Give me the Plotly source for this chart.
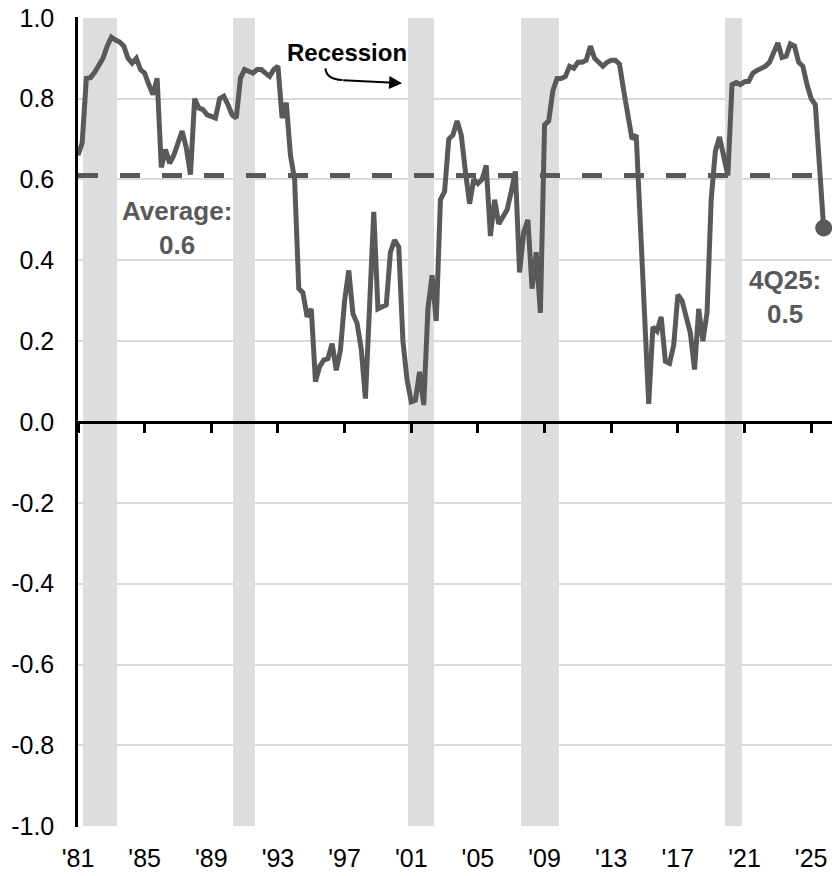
import plotly.graph_objects as go

# Quarterly labels 1Q81 .. 4Q25
quarters = [f"{q}Q{y % 100:02d}" for y in range(1981, 2026) for q in range(1, 5)]

values = [
    0.66, 0.69, 0.85, 0.852, 0.865, 0.88, 0.90, 0.93, 0.952, 0.945,
    0.94, 0.93, 0.90, 0.888, 0.90, 0.872, 0.863, 0.835, 0.81, 0.85,
    0.63, 0.674, 0.64, 0.66, 0.686, 0.72, 0.678, 0.612, 0.80, 0.777,
    0.773, 0.76, 0.756, 0.752, 0.80, 0.806, 0.785, 0.76, 0.752, 0.851,
    0.872, 0.867, 0.863, 0.872, 0.872, 0.863, 0.855, 0.872, 0.88, 0.752,
    0.79, 0.66, 0.60, 0.33, 0.32, 0.26, 0.28, 0.10, 0.137, 0.153,
    0.157, 0.194, 0.128, 0.178, 0.30, 0.375, 0.268, 0.244, 0.18, 0.058,
    0.29, 0.52, 0.28, 0.285, 0.29, 0.42, 0.45, 0.433, 0.20, 0.104,
    0.05, 0.054, 0.124, 0.042, 0.28, 0.363, 0.25, 0.55, 0.57, 0.70,
    0.71, 0.745, 0.71, 0.62, 0.54, 0.60, 0.59, 0.60, 0.635, 0.46,
    0.55, 0.49, 0.51, 0.525, 0.57, 0.62, 0.37, 0.47, 0.50, 0.33,
    0.42, 0.27, 0.735, 0.745, 0.82, 0.85, 0.85, 0.855, 0.88, 0.875,
    0.89, 0.89, 0.895, 0.93, 0.90, 0.89, 0.88, 0.89, 0.895, 0.895,
    0.885, 0.82, 0.75, 0.70, 0.71, 0.50, 0.26, 0.045, 0.235, 0.225,
    0.26, 0.15, 0.145, 0.19, 0.315, 0.30, 0.26, 0.22, 0.13, 0.28,
    0.20, 0.27, 0.55, 0.67, 0.705, 0.66, 0.61, 0.835, 0.84, 0.835,
    0.842, 0.843, 0.863, 0.87, 0.876, 0.88, 0.89, 0.915, 0.938, 0.902,
    0.905, 0.935, 0.93, 0.89, 0.88, 0.835, 0.80, 0.785, 0.63, 0.48,
]

average = 0.61

recession_start = ["3Q81", "3Q90", "1Q01", "4Q07", "1Q20"]
recession_end = ["4Q82", "1Q91", "4Q01", "2Q09", "2Q20"]

tick_labels = ["'81", "'85", "'89", "'93", "'97", "'01", "'05", "'09", "'13", "'17", "'21", "'25"]
y_ticks = [1.0, 0.8, 0.6, 0.4, 0.2, 0.0, -0.2, -0.4, -0.6, -0.8, -1.0]

LINE = "#58595b"
SHADE = "#dcdddf"
GRID = "#d9d9d9"
FONT = "Liberation Sans, Arial, sans-serif"

x = list(range(len(values)))
qidx = {q: i for i, q in enumerate(quarters)}

# recession bands (span from a little before the start quarter to after the end quarter)
band_lo = [qidx[s] - 0.7 for s in recession_start]
band_hi = [qidx[e] + 2.4 for e in recession_end]

fig = go.Figure()

fig.add_trace(go.Bar(
    x=[(a + b) / 2 for a, b in zip(band_lo, band_hi)],
    y=[2] * len(band_lo), base=[-1] * len(band_lo),
    width=[b - a for a, b in zip(band_lo, band_hi)],
    marker=dict(color=SHADE, line=dict(width=0)),
    hoverinfo="skip", showlegend=False))

# average dashed line
fig.add_trace(go.Scatter(
    x=[0, len(values) + 4], y=[average, average], mode="lines",
    line=dict(color=LINE, width=5, dash="20px,22px"), hoverinfo="skip", showlegend=False))

fig.add_trace(go.Scatter(
    x=x, y=values, mode="lines", text=quarters,
    line=dict(color=LINE, width=5), showlegend=False))

fig.add_trace(go.Scatter(
    x=[x[-1]], y=[values[-1]], mode="markers", cliponaxis=False,
    marker=dict(color=LINE, size=17), showlegend=False))

# invisible trace on overlay axis that carries the zero line with ticks
fig.add_trace(go.Scatter(x=[0], y=[0], xaxis="x2", mode="markers",
                         marker=dict(opacity=0), hoverinfo="skip", showlegend=False))

xr = [0, 181]
tickpos = [i * 16 for i in range(len(tick_labels))]
fig.update_layout(
    width=832, height=876,
    margin=dict(l=78, r=0, t=17, b=49),
    plot_bgcolor="white", paper_bgcolor="white",
    font=dict(family=FONT, size=25, color="black"),
    bargap=0,
    xaxis=dict(range=xr, tickvals=tickpos, ticktext=tick_labels, showgrid=False,
               zeroline=False, showline=False, ticks="", ticklabelstandoff=14,
               tickfont=dict(size=25), ticklabeloverflow="allow"),
    xaxis2=dict(range=xr, overlaying="x", anchor="free", position=0.5, side="bottom",
                tickvals=tickpos, showticklabels=False,
                showline=True, linecolor="black", linewidth=2.5, ticks="outside",
                ticklen=9, tickwidth=2.5, tickcolor="black", showgrid=False, zeroline=False),
    yaxis=dict(range=[-1.002, 1.002], tickvals=y_ticks, ticktext=[f"{v:.1f}" for v in y_ticks],
               showgrid=True, gridcolor=GRID, gridwidth=1.5, zeroline=False,
               showline=True, linecolor="black", linewidth=2.5, ticks="",
               ticklabelstandoff=16, tickfont=dict(size=25), ticklabeloverflow="allow"),
)

fig.add_annotation(x=23.8, y=0.479, text="<b>Average:<br>0.6</b>", showarrow=False,
                   font=dict(size=26, color=LINE, family=FONT), align="center")
fig.add_annotation(x=169.6, y=0.309, text="<b>4Q25:<br>0.5</b>", showarrow=False,
                   font=dict(size=26, color=LINE, family=FONT), align="center")
fig.add_annotation(x=64.6, y=0.914, text="<b>Recession</b>", showarrow=False,
                   font=dict(size=24, color="black", family=FONT))

# curved arrow for Recession label
fig.add_shape(type="path", path="M 59.4 0.875 Q 59.6 0.848 63.5 0.846",
              line=dict(color="black", width=2), xref="x", yref="y")
fig.add_annotation(x=77.8, y=0.838, ax=63.3, ay=0.846, axref="x", ayref="y",
                   text="", showarrow=True, arrowhead=2, arrowsize=1.3,
                   arrowwidth=2, arrowcolor="black")

fig.write_html("out.html", config={"displayModeBar": False},
               post_script="document.body.style.margin='0';document.body.style.overflow='hidden';")
